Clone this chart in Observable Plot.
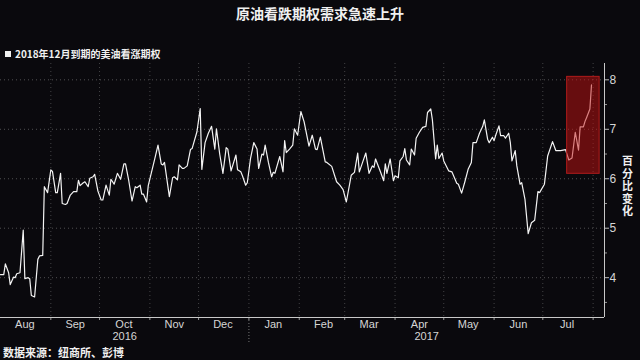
<!DOCTYPE html>
<html><head><meta charset="utf-8">
<script src="https://cdn.jsdelivr.net/npm/d3@7"></script>
<script src="https://cdn.jsdelivr.net/npm/@observablehq/plot@0.6"></script>
<style>
html,body{margin:0;padding:0;background:#0a090d;width:640px;height:360px;overflow:hidden;}
body{position:relative;font-family:"Noto Sans CJK SC","Noto Sans",sans-serif;color:#f0f0f0;}
#title{position:absolute;top:3px;left:0;width:640px;text-align:center;font-size:14px;font-weight:bold;line-height:20px;}
#legend{position:absolute;top:47px;left:5px;font-size:10px;font-weight:bold;line-height:14px;display:flex;align-items:center;}
#legend .sw{width:6px;height:6px;background:#f0f0f0;margin-right:4px;}
#chart{position:absolute;top:60px;left:0;}
#source{position:absolute;top:344px;left:3px;font-size:11px;font-weight:bold;line-height:16px;}
</style></head><body>
<div id="title">原油看跌期权需求急速上升</div>
<div id="legend"><span class="sw"></span><span id="legendText"></span></div>
<div id="chart"></div>
<div id="source">数据来源：纽商所、彭博</div>
<script>
const seriesName = "2018年12月到期的美油看涨期权";
const yAxisTitle = "百分比变化";
const dates = [
"2016-08-01","2016-08-03","2016-08-04","2016-08-06","2016-08-07","2016-08-09","2016-08-10","2016-08-11","2016-08-13","2016-08-15",
"2016-08-16","2016-08-18","2016-08-19","2016-08-20","2016-08-22","2016-08-24","2016-08-25","2016-08-27","2016-08-28","2016-08-30",
"2016-09-01","2016-09-02","2016-09-04","2016-09-05","2016-09-07","2016-09-08","2016-09-10","2016-09-11","2016-09-13","2016-09-15",
"2016-09-17","2016-09-18","2016-09-19","2016-09-21","2016-09-22","2016-09-24","2016-09-25","2016-09-27","2016-09-28","2016-09-30",
"2016-10-02","2016-10-03","2016-10-05","2016-10-07","2016-10-08","2016-10-10","2016-10-12","2016-10-14","2016-10-16","2016-10-17",
"2016-10-19","2016-10-21","2016-10-23","2016-10-24","2016-10-26","2016-10-27","2016-10-28","2016-10-30","2016-10-31","2016-11-04",
"2016-11-06","2016-11-08","2016-11-09","2016-11-10","2016-11-13","2016-11-15","2016-11-16","2016-11-18","2016-11-19","2016-11-21",
"2016-11-22","2016-11-24","2016-11-26","2016-11-27","2016-11-30","2016-12-02","2016-12-03","2016-12-05","2016-12-07","2016-12-09",
"2016-12-11","2016-12-12","2016-12-14","2016-12-16","2016-12-18","2016-12-19","2016-12-21","2016-12-24","2016-12-25","2016-12-27",
"2016-12-28","2016-12-30","2016-12-31","2017-01-02","2017-01-04","2017-01-06","2017-01-07","2017-01-09","2017-01-10","2017-01-11",
"2017-01-13","2017-01-15","2017-01-16","2017-01-17","2017-01-20","2017-01-22","2017-01-23","2017-01-24","2017-01-26","2017-01-28",
"2017-01-29","2017-01-31","2017-02-02","2017-02-04","2017-02-07","2017-02-09","2017-02-11","2017-02-12","2017-02-14","2017-02-17",
"2017-02-18","2017-02-21","2017-02-24","2017-02-26","2017-02-28","2017-03-02","2017-03-05","2017-03-07","2017-03-09","2017-03-10",
"2017-03-12","2017-03-14","2017-03-16","2017-03-18","2017-03-19","2017-03-20","2017-03-23","2017-03-25","2017-03-26","2017-03-27",
"2017-03-29","2017-03-31","2017-04-01","2017-04-03","2017-04-04","2017-04-06","2017-04-07","2017-04-08","2017-04-10","2017-04-11",
"2017-04-13","2017-04-14","2017-04-16","2017-04-18","2017-04-20","2017-04-21","2017-04-23","2017-04-24","2017-04-26","2017-04-27",
"2017-04-28","2017-04-30","2017-05-01","2017-05-04","2017-05-06","2017-05-09","2017-05-10","2017-05-12","2017-05-14","2017-05-16",
"2017-05-18","2017-05-19","2017-05-21","2017-05-23","2017-05-25","2017-05-26","2017-05-28","2017-05-29","2017-05-31","2017-06-01",
"2017-06-02","2017-06-04","2017-06-05","2017-06-07","2017-06-08","2017-06-10","2017-06-11","2017-06-12","2017-06-14","2017-06-15",
"2017-06-17","2017-06-18","2017-06-20","2017-06-22","2017-06-24","2017-06-26","2017-06-28","2017-06-29","2017-07-02","2017-07-04",
"2017-07-07","2017-07-09","2017-07-12","2017-07-15","2017-07-17","2017-07-19","2017-07-21","2017-07-23","2017-07-24","2017-07-26",
"2017-07-27","2017-07-28","2017-07-30","2017-07-31"
];
const values = [
4.06,4.06,4.28,4.10,3.86,4.01,4.00,4.08,4.10,4.96,
3.98,4.00,3.98,3.64,3.61,4.37,4.44,4.45,5.84,5.72,
6.18,6.15,5.72,5.72,6.11,5.50,5.48,5.50,5.67,5.74,
5.74,5.97,5.86,5.92,5.94,5.84,6.01,6.04,6.09,5.75,
5.57,5.57,5.87,5.67,5.99,5.89,6.11,5.99,6.30,6.30,
5.96,5.55,5.84,5.82,5.87,5.69,5.69,5.53,5.86,6.40,
6.68,6.30,6.28,6.33,5.64,6.02,6.04,5.98,6.28,6.21,
6.21,6.26,6.59,6.61,6.95,7.42,6.19,6.73,6.92,7.06,
6.60,7.01,6.50,6.11,6.63,6.60,6.16,6.48,6.18,6.14,
6.06,5.87,5.92,6.41,6.73,6.60,6.21,6.50,6.48,6.68,
6.33,6.04,6.13,6.11,6.45,6.14,6.77,6.53,6.60,6.68,
7.01,6.88,7.36,7.15,6.66,6.88,6.60,6.59,6.84,6.34,
6.33,6.25,5.94,5.87,5.78,5.53,6.07,6.13,6.52,6.14,
6.33,6.52,6.11,6.26,6.23,6.40,6.14,5.96,6.30,6.11,
6.40,5.96,6.06,6.02,6.36,6.45,6.61,6.38,6.28,6.60,
6.48,6.82,6.94,7.04,7.06,7.34,7.41,7.19,6.40,6.68,
6.41,6.52,6.36,6.16,6.14,5.91,5.89,5.71,5.94,6.19,
6.33,6.73,6.73,6.92,7.06,7.19,6.80,6.73,6.84,6.77,
6.88,7.07,6.87,6.87,6.82,6.92,6.73,6.36,6.57,6.26,
5.89,5.92,5.59,4.89,5.11,5.16,5.74,5.72,5.89,6.46,
6.75,6.57,6.57,6.59,6.38,6.42,6.94,6.58,7.05,7.05,
7.16,7.24,7.41,7.90
];
const yTicks = [4, 5, 6, 7, 8];
const yMinorTicks = [3.5, 4.5, 5.5, 6.5, 7.5];
const yearLabels = ["2016", "2017"];
const xStart = "2016-08-01", xEnd = "2017-08-08";
const yMin = 3.195, yMax = 8.33;
const highlightStart = "2017-07-16", highlightEnd = "2017-08-05";
const highlightLow = 6.1, highlightHigh = 8.06;

document.getElementById("legendText").textContent = seriesName;

const data = dates.map((d, i) => ({date: new Date(d), value: values[i]}));
const xDomain = [new Date(xStart), new Date(xEnd)];
const jan1 = new Date("2017-01-01");
const monthStarts = d3.utcMonth.range(d3.utcMonth.ceil(d3.utcDay.offset(xDomain[0], 1)), xDomain[1]);
const monthMids = d3.utcMonth.range(xDomain[0], xDomain[1]).map(d => d3.utcDay.offset(d, 15)).filter(d => d < xDomain[1]);
const yearPos = [
  {label: yearLabels[0], date: new Date((+xDomain[0] + +jan1) / 2)},
  {label: yearLabels[1], date: new Date((+jan1 + +xDomain[1]) / 2)}
];
const box = [{x1: new Date(highlightStart), x2: new Date(highlightEnd), y1: highlightLow, y2: highlightHigh}];

const chart = Plot.plot({
  width: 640,
  height: 285,
  marginLeft: 0,
  marginRight: 36,
  marginTop: 3,
  marginBottom: 28,
  style: {background: "transparent", color: "#d6d6d6", fontFamily: "'Liberation Sans', Arial, sans-serif", fontSize: "11px"},
  x: {type: "utc", domain: xDomain},
  y: {domain: [yMin, yMax]},
  marks: [
    Plot.gridY(yTicks, {stroke: "#8a8a8a", strokeOpacity: 0.55, strokeDasharray: "1,3"}),
    Plot.gridX(monthStarts, {stroke: "#8a8a8a", strokeOpacity: 0.45, strokeDasharray: "1,3"}),
    Plot.axisY(yTicks, {anchor: "right", tickSize: 4, tickPadding: 1, fontSize: 12, label: null, stroke: "#bbb"}),
    Plot.axisY(yMinorTicks, {anchor: "right", tickSize: 2, tickFormat: () => "", label: null, stroke: "#999"}),
    Plot.axisX(monthStarts, {tickSize: 3, tickFormat: () => "", label: null, stroke: "#999"}),
    Plot.axisX(monthMids, {tickSize: 0, tickPadding: 3, tickFormat: d3.utcFormat("%b"), label: null}),
    Plot.axisX([jan1], {tickSize: 26, tickFormat: () => "", label: null, stroke: "#777", strokeDasharray: "1,2"}),
    Plot.text(yearPos, {x: "date", text: "label", frameAnchor: "bottom", dy: 22, fill: "#d6d6d6", fontSize: 11}),
    Plot.ruleY([yMin], {stroke: "#c8c8c8", strokeWidth: 1}),
    Plot.ruleX([xDomain[1]], {stroke: "#c8c8c8", strokeWidth: 1}),
    Plot.lineY(data, {x: "date", y: "value", stroke: "#f4f4f4", strokeWidth: 1.2}),
    Plot.rect(box, {x1: "x1", x2: "x2", y1: "y1", y2: "y2", fill: "#c41212", fillOpacity: 0.5, stroke: "#b01c1c", strokeWidth: 1}),
    Plot.text([yAxisTitle], {frameAnchor: "right", dx: 23, dy: -7, fill: "#f0f0f0", fontSize: 11, fontWeight: "bold", fontFamily: "'Noto Sans CJK SC', sans-serif",
      render: (index, scales, values, dims, context, next) => {
        const g = next(index, scales, values, dims, context);
        d3.select(g).selectAll("text")
          .style("writing-mode", "vertical-rl")
          .style("letter-spacing", "1.5px")
          .attr("text-anchor", "middle")
          .attr("dy", null);
        return g;
      }})
  ]
});
document.getElementById("chart").appendChild(chart);
</script>
</body></html>
